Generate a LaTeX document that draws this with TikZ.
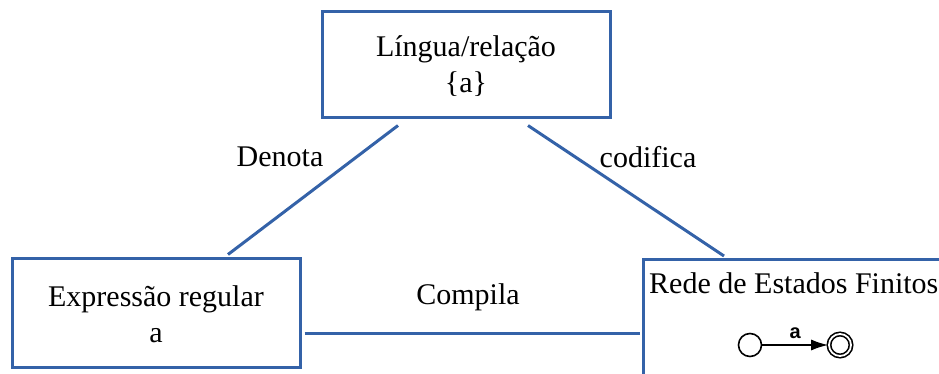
\documentclass[tikz,border=0pt]{standalone}
\usepackage{fontspec}
\setmainfont{Liberation Serif}
\setsansfont{Liberation Sans}
\usetikzlibrary{arrows.meta}
\definecolor{edgeblue}{RGB}{52,98,168}
\tikzset{
  box/.style={draw=edgeblue, line width=3pt, fill=white, inner sep=0pt},
  link/.style={draw=edgeblue, line width=3pt},
  txt/.style={font=\fontsize{30}{36}\selectfont, align=center, inner sep=0pt},
  state/.style={circle, draw=black, line width=1.6pt, minimum size=23pt, inner sep=0pt},
}
\begin{document}
\begin{tikzpicture}[x=1pt,y=-1pt]
\useasboundingbox (0,0) rectangle (939,374);
\clip (0,0) rectangle (939,374);

% the three boxes
\node[box, minimum width=288pt, minimum height=106pt] (top) at (466,65) {};
\node[box, minimum width=288pt, minimum height=109pt] (left) at (156,312.5) {};
\node[box, minimum width=320pt, minimum height=140pt, anchor=north west] (right) at (642,258) {};

% box texts
\node[txt] (toptext) at (466,66) {Língua/relação\\\{a\}};
\node[txt] (lefttext) at (156,314) {Expressão regular\\a};
\node[txt, anchor=west] (righttext) at (649,283) {Rede de Estados Finitos};

% connectors between the boxes
\draw[link] ([xshift=-68pt,yshift=-6pt]top.south) -- ([xshift=72pt,yshift=2pt]left.north);
\draw[link] ([xshift=62pt,yshift=-6pt]top.south) -- ([xshift=82pt,yshift=2pt]right.north west);
\coordinate (cstart) at ([xshift=3pt,yshift=-20.5pt]left.east);
\draw[link] (cstart) -- ([xshift=-2pt]cstart -| right.west);

% connector labels
\node[txt] (denota) at (280,157) {Denota};
\node[txt] (codifica) at (648,157) {codifica};
\node[txt] (compila) at (468,297) {Compila};

% small automaton accepting "a"
\node[state] (q0) at (750,345) {};
\node[state, minimum size=22pt, double, double distance=1.8pt] (q1) at (840,345) {};
\draw[line width=1.6pt, -{Latex[length=17pt,width=11pt]}] (q0) -- node[above=2pt, font=\sffamily\bfseries\fontsize{20}{22}\selectfont] {a} (q1);
\end{tikzpicture}
\end{document}
